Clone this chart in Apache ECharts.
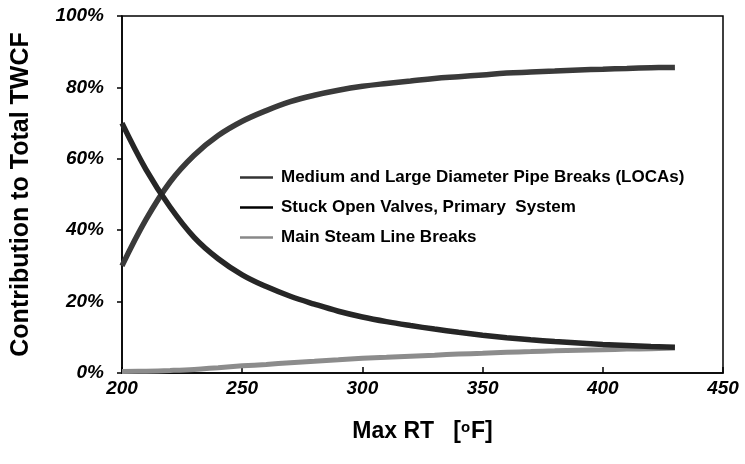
<!DOCTYPE html>
<html>
<head>
<meta charset="utf-8">
<script src="https://cdn.jsdelivr.net/npm/echarts@6/dist/echarts.min.js"></script>
<style>html,body{margin:0;padding:0;background:#fff}#c{width:745px;height:464px}</style>
</head>
<body>
<div id="c"></div>
<script>
var maxRT = [200, 210, 220, 230, 240, 250, 260, 270, 280, 290, 300, 310, 320, 330, 340, 350, 360, 370, 380, 390, 400, 410, 420, 430];
var locaPct = [30, 43, 53.5, 61, 66.5, 70.5, 73.5, 76, 77.8, 79.2, 80.3, 81.1, 81.8, 82.5, 83, 83.5, 84, 84.3, 84.6, 84.9, 85.1, 85.3, 85.5, 85.6];
var valvePct = [70, 57, 46.5, 38, 32, 27.5, 24.2, 21.5, 19.3, 17.3, 15.7, 14.4, 13.3, 12.3, 11.4, 10.6, 9.9, 9.3, 8.8, 8.4, 8.0, 7.7, 7.4, 7.2];
var mslbPct = [0.4, 0.5, 0.7, 1, 1.5, 2, 2.4, 2.9, 3.3, 3.7, 4.1, 4.4, 4.7, 5, 5.3, 5.5, 5.8, 6, 6.2, 6.4, 6.5, 6.7, 6.8, 7];
var seriesNames = ['Medium and Large Diameter Pipe Breaks (LOCAs)', 'Stuck Open Valves, Primary  System', 'Main Steam Line Breaks'];

function pairs(ys) { return maxRT.map(function (x, i) { return [x, ys[i]]; }); }

var chart = echarts.init(document.getElementById('c'), null, { renderer: 'canvas' });
var font = 'Liberation Sans, Arial, sans-serif';
chart.setOption({
  animation: false,
  backgroundColor: '#fff',
  grid: { left: 122, right: 22, top: 16, bottom: 91, show: true, borderColor: '#000', borderWidth: 1.5, backgroundColor: 'transparent' },
  legend: {
    orient: 'vertical', left: 235, top: 164, itemWidth: 33, itemHeight: 2.5, itemGap: 13,
    icon: 'rect',
    textStyle: { fontFamily: font, fontSize: 17, fontWeight: 'bold', color: '#000', padding: [0, 0, 0, 3] },
    data: [
      { name: seriesNames[0], itemStyle: { color: '#333' } },
      { name: seriesNames[1], itemStyle: { color: '#000' } },
      { name: seriesNames[2], itemStyle: { color: '#888' } }
    ]
  },
  xAxis: {
    type: 'value', min: 200, max: 450, interval: 50,
    name: 'Max RT   [{s|o}F]', nameLocation: 'middle', nameGap: 47,
    nameTextStyle: { fontFamily: font, fontSize: 23, fontWeight: 'bold', color: '#000', rich: { s: { fontFamily: font, fontSize: 15, fontWeight: 'bold', verticalAlign: 'top', padding: [0, 1, 9, 0] } } },
    axisLine: { lineStyle: { color: '#000', width: 1.5 } },
    axisTick: { inside: true, length: 6, lineStyle: { color: '#000', width: 1.5 } },
    axisLabel: { fontFamily: font, fontSize: 19, fontWeight: 'bold', fontStyle: 'italic', color: '#000', margin: 6 },
    splitLine: { show: false }
  },
  yAxis: {
    type: 'value', min: 0, max: 100, interval: 20,
    name: 'Contribution to Total TWCF', nameLocation: 'middle', nameGap: 88,
    nameTextStyle: { fontFamily: font, fontSize: 25, fontWeight: 'bold', color: '#000' },
    axisLine: { show: true, lineStyle: { color: '#000', width: 1.5 } },
    axisTick: { show: true, inside: false, length: 5, lineStyle: { color: '#000', width: 1.5 } },
    axisLabel: { fontFamily: font, fontSize: 19, fontWeight: 'bold', fontStyle: 'italic', color: '#000', margin: 18, formatter: '{value}%' },
    splitLine: { show: false }
  },
  series: [
    { name: seriesNames[0], type: 'line', smooth: 0.4, showSymbol: false, data: pairs(locaPct),
      lineStyle: { color: '#3a3a3a', width: 5.5 }, itemStyle: { color: '#333' }, z: 3 },
    { name: seriesNames[1], type: 'line', smooth: 0.4, showSymbol: false, data: pairs(valvePct),
      lineStyle: { color: '#262626', width: 5.5 }, itemStyle: { color: '#000' }, z: 4 },
    { name: seriesNames[2], type: 'line', smooth: 0.4, showSymbol: false, data: pairs(mslbPct),
      lineStyle: { color: '#8c8c8c', width: 5 }, itemStyle: { color: '#888' }, z: 2 }
  ]
});
</script>
</body>
</html>
